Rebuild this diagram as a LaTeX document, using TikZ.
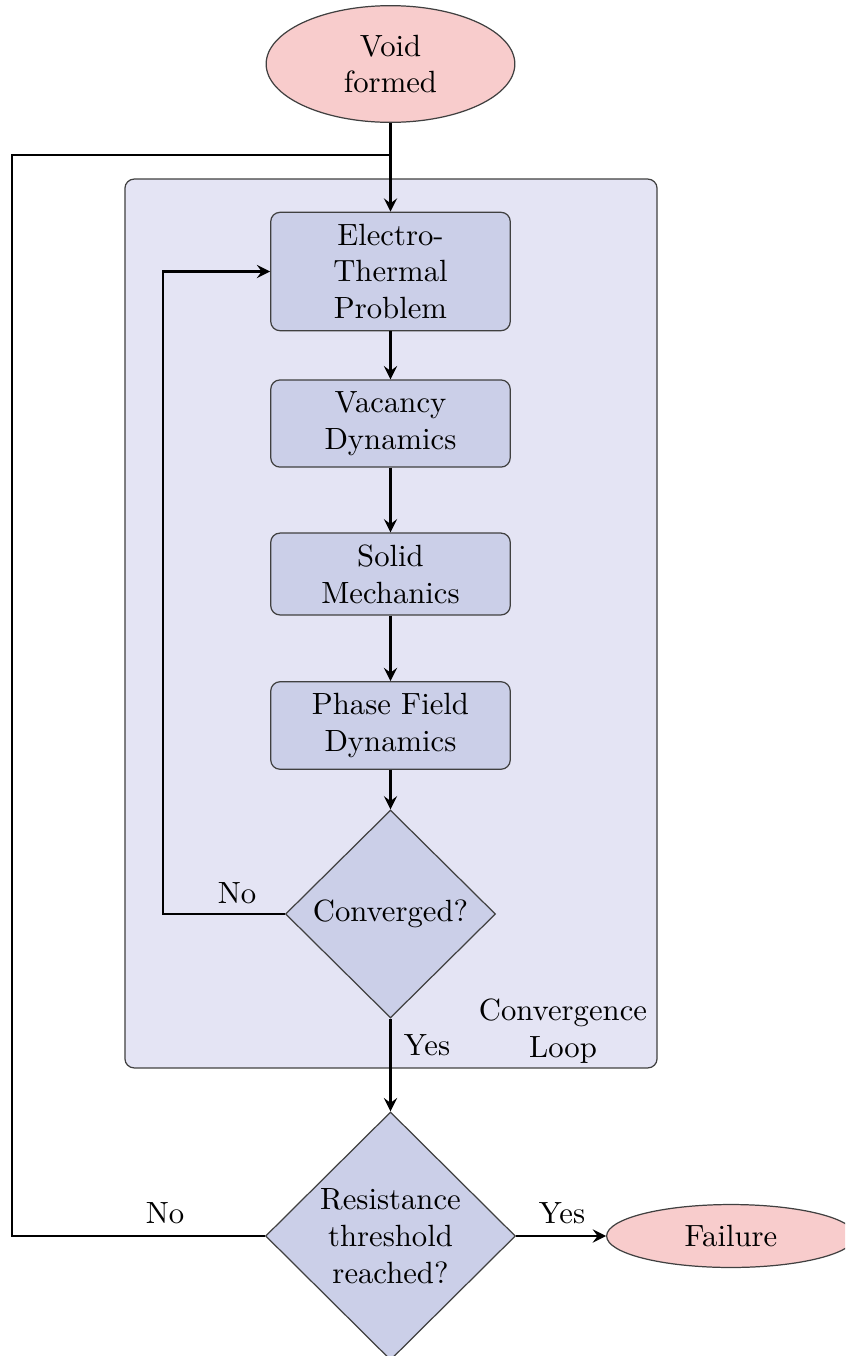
\documentclass[tikz,border=0pt]{standalone}
\usepackage{amsmath}
\usepackage{tikz}
\usetikzlibrary{shapes.geometric}

\definecolor{loopfill}{RGB}{228,228,244}
\definecolor{stagefill}{RGB}{203,207,232}
\definecolor{endfill}{RGB}{248,204,204}

\tikzset{
    stage/.style={rectangle,rounded corners=3pt,draw=black!75,fill=stagefill,
        minimum width=78pt,inner sep=3.75pt,align=center},
    check/.style={diamond,aspect=1,draw=black!75,fill=stagefill,
        inner sep=0pt,align=center},
    terminal/.style={ellipse,draw=black!75,fill=endfill,
        minimum width=81pt,inner sep=2pt,align=center},
    flow/.style={line width=0.9pt,-stealth}
}

\begin{document}
\begin{tikzpicture}[x=0.3257pt,y=-0.3257pt]
                \useasboundingbox (0,0) rectangle (845,1356);
                \clip (0,0) rectangle (845,1356);
                \def\mid{390.5}
                \def\backx{12}
                \def\loopx{163}
                % convergence loop
                \node [rectangle,rounded corners=3pt,draw=black!75,fill=loopfill,
                    minimum width=173.3pt,minimum height=289.5pt] (loop) at (391,623.5) {};
                \node [align=center] (looplabel) at (563,1031) {Convergence\\Loop};
                % steps
                \node [terminal,minimum height=38pt] (void) at (\mid,64) {Void\\formed};
                \node [stage] (etp) at (\mid,271.5) {Electro-\\Thermal\\Problem};
                \node [stage] (vac) at (\mid,423.5) {Vacancy\\Dynamics};
                \node [stage] (sol) at (\mid,574) {Solid\\Mechanics};
                \node [stage] (pf) at (\mid,725.5) {Phase Field\\Dynamics};
                \node [check,minimum width=68.4pt,minimum height=67.7pt] (conv) at (\mid,914) {Converged?};
                \node [check,minimum width=81.4pt,minimum height=80.8pt] (res) at (\mid,1236)
                    {Resistance\\threshold\\reached?};
                \node [terminal,minimum height=20.5pt] (fail) at (731,1236) {Failure};
                \coordinate (back) at (\backx,155);
                \coordinate (ret) at (\loopx,271.5);
                % connectors
                \draw [flow] (void) -- (etp);
                \draw [flow] (etp) -- (vac);
                \draw [flow] (vac) -- (sol);
                \draw [flow] (sol) -- (pf);
                \draw [flow] (pf) -- (conv);
                \draw [flow] (conv.south) -- (res.north);
                \draw [flow] (conv.west) -| (ret) -- (etp.west);
                \draw [line width=0.9pt] (res.west) -| (back) -- (void.south |- back);
                \draw [flow] (res.east) -- (fail.west);
                % labels
                \node (no1) at (237,893) {No};
                \node (yes1) at (427,1045) {Yes};
                \node (no2) at (165,1213) {No};
                \node (yes2) at (562,1213) {Yes};
            \end{tikzpicture}
\end{document}
